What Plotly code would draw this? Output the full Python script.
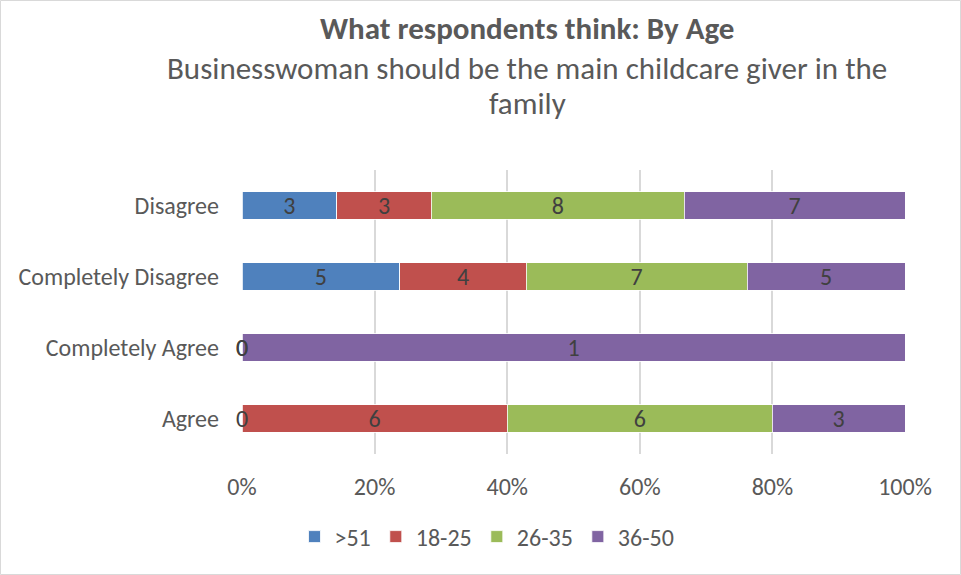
import plotly.graph_objects as go

# Response categories (bottom to top) and counts per age group
categories = ["Agree", "Completely Agree", "Completely Disagree", "Disagree"]
age_groups = [">51", "18-25", "26-35", "36-50"]
over_51 = [0, 0, 5, 3]
age_18_25 = [6, 0, 4, 3]
age_26_35 = [6, None, 7, 8]
age_36_50 = [3, 1, 5, 7]
tick_values = [0, 20, 40, 60, 80, 100]
tick_labels = ["0%", "20%", "40%", "60%", "80%", "100%"]

series = [over_51, age_18_25, age_26_35, age_36_50]
colors = ["#4F81BD", "#C0504D", "#9BBB59", "#8064A2"]

FONT = "Carlito, Lato, sans-serif"
TEXT = "#595959"
LABEL = "#404040"
SZ = 24

W, H = 961, 575
ML, MR, MT, MB = 242, 56, 170, 121
PW, PH = W - ML - MR, H - MT - MB

fig = go.Figure()
for name, vals, col in zip(age_groups, series, colors):
    fig.add_trace(go.Bar(
        y=categories, x=vals, name=name, orientation="h",
        marker=dict(color=col, line=dict(color="white", width=0.8)),
        text=[("" if v in (None, 0) else str(v)) for v in vals],
        textposition="inside", insidetextanchor="middle", textangle=0,
        constraintext="none",
        textfont=dict(family=FONT, size=SZ, color=LABEL),
        hoverinfo="skip",
    ))

# Zero-valued segments still carry a label at their stacked position
annotations = []
for ci, cat in enumerate(categories):
    total = sum((s[ci] or 0) for s in series)
    running = 0
    for s in series:
        v = s[ci]
        if v is None:
            continue
        if v == 0:
            annotations.append(dict(
                x=100 * running / total, y=cat, xref="x", yref="y",
                text=str(v), showarrow=False, xanchor="center",
                font=dict(family=FONT, size=SZ, color=LABEL)))
        running += v

def px_x(p):
    return (p - ML) / PW

def px_y(p):
    return (H - MB - p) / PH

annotations += [
    dict(x=px_x(527), y=px_y(28), xref="paper", yref="paper", showarrow=False,
         text="<b>What respondents think: By Age</b>", xanchor="center", yanchor="middle",
         font=dict(family=FONT, size=31, color=TEXT)),
    dict(x=px_x(527), y=px_y(68), xref="paper", yref="paper", showarrow=False,
         text="Businesswoman should be the main childcare giver in the", xanchor="center",
         yanchor="middle", font=dict(family=FONT, size=31, color=TEXT)),
    dict(x=px_x(527), y=px_y(103), xref="paper", yref="paper", showarrow=False,
         text="family", xanchor="center", yanchor="middle",
         font=dict(family=FONT, size=31, color=TEXT)),
]

fig.update_layout(
    width=W, height=H,
    margin=dict(l=ML, r=MR, t=MT, b=MB),
    barmode="stack", barnorm="percent", bargap=0.61,
    plot_bgcolor="white", paper_bgcolor="white",
    font=dict(family=FONT, color=TEXT),
    annotations=annotations,
    showlegend=True,
    legend=dict(orientation="h", x=px_x(487), xanchor="center", y=px_y(537), yanchor="middle",
                font=dict(family=FONT, size=SZ, color=TEXT), traceorder="normal",
                itemwidth=30, tracegroupgap=0),
    shapes=[dict(type="rect", xref="paper", yref="paper",
                 x0=px_x(0.5), x1=px_x(960.5), y0=px_y(574.5), y1=px_y(0.5),
                 line=dict(color="#D9D9D9", width=1), fillcolor="rgba(0,0,0,0)", layer="below")],
)
fig.update_xaxes(range=[0, 100], tickvals=tick_values, ticktext=tick_labels,
                 showgrid=True, gridcolor="#D9D9D9", gridwidth=1.5, zeroline=False,
                 showline=False, ticks="", ticklabelstandoff=16,
                 tickfont=dict(family=FONT, size=SZ, color=TEXT), fixedrange=True)
fig.update_yaxes(categoryorder="array", categoryarray=categories,
                 showgrid=False, zeroline=False, showline=False, ticks="",
                 ticklabelstandoff=22, tickfont=dict(family=FONT, size=SZ, color=TEXT),
                 fixedrange=True)

fig.write_html("out.html")
